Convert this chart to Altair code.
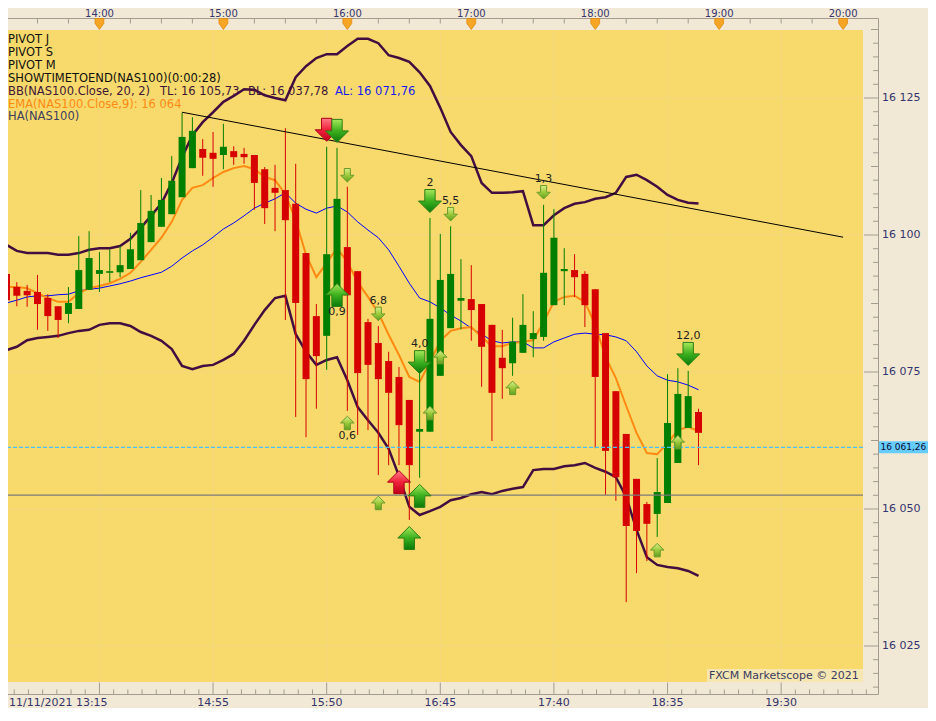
import altair as alt
import pandas as pd

# ---------------- data (NAS100, 5-minute Heikin-Ashi candles from 13:15) ----------------
OPEN = [16092.9, 16090.5, 16089.8, 16089.6, 16088.5, 16087.0, 16085.6, 16086.5, 16090.0, 16092.9,
        16093.1, 16093.2, 16093.8, 16095.4, 16098.7, 16101.5, 16103.8, 16106.9, 16112.2, 16115.7,
        16115.0, 16114.6, 16115.3, 16114.8, 16114.6, 16112.0, 16108.6, 16108.2, 16105.7, 16096.7,
        16085.2, 16081.6, 16089.0, 16097.8, 16093.4, 16084.1, 16080.3, 16077.0, 16074.1, 16069.9,
        16064.1, 16064.1, 16074.3, 16083.0, 16088.0, 16088.3, 16087.4, 16083.6, 16077.6, 16076.6,
        16078.5, 16081.0, 16081.4, 16087.2, 16093.4, 16093.6, 16092.9, 16090.1, 16082.1, 16071.5,
        16063.7, 16055.5, 16050.9, 16049.1, 16051.1, 16058.4, 16064.8, 16067.7]
HIGH = [16092.9, 16091.4, 16090.9, 16092.7, 16089.2, 16087.0, 16090.5, 16099.8, 16100.7, 16096.9,
        16097.4, 16098.0, 16100.4, 16108.2, 16107.3, 16110.4, 16114.4, 16122.3, 16121.5, 16117.5,
        16118.8, 16120.3, 16116.2, 16115.9, 16114.6, 16112.4, 16112.8, 16119.5, 16113.0, 16096.7,
        16087.4, 16116.1, 16115.9, 16108.8, 16093.4, 16084.7, 16083.4, 16078.7, 16075.9, 16069.9,
        16075.4, 16103.1, 16100.2, 16101.6, 16095.6, 16094.5, 16087.4, 16083.6, 16082.7, 16084.9,
        16089.2, 16086.1, 16105.5, 16104.7, 16097.6, 16096.5, 16093.4, 16090.1, 16082.1, 16071.5,
        16063.7, 16055.5, 16051.3, 16059.3, 16074.6, 16075.7, 16075.2, 16068.3]
LOW = [16083.9, 16087.0, 16086.9, 16082.7, 16082.5, 16081.2, 16083.9, 16086.5, 16090.0, 16089.6,
       16091.4, 16092.3, 16093.8, 16095.4, 16098.7, 16101.5, 16103.8, 16106.9, 16112.2, 16110.8,
       16108.8, 16112.0, 16112.8, 16113.0, 16104.6, 16102.0, 16100.7, 16084.5, 16066.8, 16063.1,
       16068.3, 16075.4, 16089.0, 16067.9, 16063.5, 16064.4, 16056.2, 16058.0, 16058.0, 16048.0,
       16055.7, 16064.1, 16074.3, 16083.0, 16082.8, 16080.7, 16072.3, 16062.4, 16070.1, 16074.3,
       16078.5, 16077.7, 16080.7, 16087.2, 16087.2, 16088.7, 16083.2, 16061.1, 16052.6, 16051.5,
       16033.0, 16038.3, 16040.5, 16044.9, 16051.1, 16058.4, 16064.8, 16058.0]
CLOSE = [16088.1, 16088.9, 16089.0, 16087.4, 16085.2, 16084.5, 16087.6, 16093.6, 16095.8, 16093.6,
         16093.4, 16094.5, 16097.4, 16102.2, 16104.4, 16106.4, 16109.9, 16117.9, 16119.0, 16114.1,
         16113.9, 16116.1, 16114.2, 16114.2, 16109.5, 16104.9, 16107.7, 16102.7, 16087.6, 16073.7,
         16077.9, 16096.5, 16106.6, 16089.0, 16074.8, 16076.3, 16073.7, 16071.2, 16065.3, 16058.0,
         16064.6, 16084.7, 16091.8, 16092.9, 16088.5, 16086.3, 16079.6, 16071.2, 16075.7, 16080.5,
         16083.6, 16082.1, 16093.1, 16099.5, 16093.8, 16092.3, 16087.2, 16074.1, 16060.6, 16055.8,
         16046.9, 16046.0, 16047.3, 16053.1, 16065.7, 16071.0, 16070.6, 16063.9]

BB_UPPER = [16098.2, 16097.1, 16096.7, 16096.7, 16096.7, 16096.4, 16096.4, 16096.7, 16097.3, 16097.6,
            16097.6, 16098.0, 16099.3, 16101.3, 16103.5, 16105.8, 16109.5, 16114.2, 16118.2, 16120.6,
            16122.4, 16124.3, 16125.4, 16126.6, 16126.5, 16125.5, 16125.0, 16124.6, 16128.8, 16130.8,
            16132.3, 16133.0, 16133.0, 16134.5, 16135.8, 16135.8, 16135.0, 16132.8, 16132.3, 16131.6,
            16129.7, 16127.2, 16123.2, 16118.8, 16116.4, 16114.4, 16109.5, 16107.7, 16107.7, 16107.8,
            16108.0, 16101.8, 16101.8, 16103.6, 16104.9, 16105.7, 16106.0, 16106.6, 16106.9, 16107.7,
            16110.6, 16111.0, 16110.0, 16108.8, 16107.3, 16106.4, 16105.9, 16105.73]
BB_LOWER = [16079.0, 16079.6, 16080.8, 16081.2, 16081.4, 16081.6, 16082.1, 16082.5, 16082.7, 16083.6,
            16083.9, 16083.9, 16083.4, 16082.3, 16081.6, 16080.7, 16079.2, 16076.1, 16075.5, 16076.1,
            16076.3, 16077.2, 16078.3, 16080.7, 16083.6, 16086.3, 16088.5, 16088.9, 16081.9, 16078.7,
            16076.3, 16077.2, 16077.7, 16073.5, 16068.6, 16066.2, 16063.9, 16061.0, 16056.0, 16050.4,
            16048.9, 16049.6, 16050.4, 16051.6, 16052.0, 16052.7, 16053.1, 16052.7, 16053.3, 16053.7,
            16054.0, 16057.1, 16057.3, 16057.3, 16057.8, 16058.0, 16058.4, 16057.5, 16056.8, 16055.8,
            16052.2, 16046.2, 16041.2, 16039.8, 16039.4, 16039.2, 16038.7, 16037.78]
BB_MID = [16087.6, 16088.1, 16088.7, 16088.9, 16088.9, 16089.1, 16089.2, 16089.8, 16090.1, 16090.3,
          16090.7, 16091.1, 16091.6, 16092.2, 16092.7, 16093.2, 16094.3, 16095.8, 16097.1, 16098.2,
          16099.6, 16101.1, 16102.2, 16103.5, 16104.9, 16105.8, 16106.6, 16107.7, 16105.8, 16104.7,
          16104.0, 16104.9, 16105.3, 16104.2, 16102.4, 16100.9, 16099.5, 16097.3, 16094.3, 16091.2,
          16088.5, 16087.8, 16086.7, 16085.4, 16084.3, 16083.0, 16081.9, 16080.7, 16080.3, 16080.5,
          16080.5, 16079.4, 16079.4, 16080.5, 16081.2, 16081.9, 16082.1, 16081.9, 16081.8, 16081.4,
          16080.7, 16078.7, 16076.1, 16074.3, 16073.5, 16073.2, 16072.6, 16071.76]
EMA9 = [16090.5, 16090.5, 16090.3, 16089.4, 16088.5, 16087.8, 16087.8, 16089.4, 16090.3, 16090.7,
        16091.2, 16092.0, 16093.1, 16095.1, 16097.3, 16099.5, 16102.4, 16106.4, 16108.6, 16109.1,
        16110.4, 16111.5, 16112.2, 16112.6, 16112.0, 16110.6, 16110.0, 16107.5, 16102.7, 16096.4,
        16092.3, 16094.9, 16097.6, 16095.1, 16091.4, 16088.7, 16085.8, 16081.8, 16078.1, 16074.1,
        16073.2, 16076.8, 16080.7, 16082.5, 16083.0, 16083.2, 16081.4, 16079.7, 16079.7, 16080.3,
        16080.5, 16080.8, 16084.1, 16087.8, 16088.7, 16088.9, 16087.8, 16083.6, 16077.7, 16073.9,
        16068.8, 16063.9, 16060.2, 16060.0, 16062.0, 16064.4, 16065.0, 16064.2]

TREND_I = [17, 81]
TREND_P = [16122.4, 16099.6]
SUPPORT_PRICE = [16052.55]
LAST_PRICE = [16061.26]
LAST_PRICE_TEXT = ["16 061,26"]

SIG_I = [31, 32, 32, 41, 40, 38, 40, 39, 66, 33, 43, 36, 52, 33, 36, 41, 42, 49, 63, 65]
SIG_P = [16119.2, 16119.0, 16089.05, 16106.2, 16076.8, 16054.9, 16052.4, 16044.7, 16078.3,
         16110.9, 16103.8, 16085.6, 16107.8, 16065.7, 16051.1, 16067.5, 16077.7, 16072.1,
         16042.5, 16062.2]
SIG_DIR = ["down", "down", "up", "down", "down", "up", "up", "up", "down",
           "down", "down", "down", "down", "up", "up", "up", "up", "up", "up", "up"]
SIG_KIND = ["red", "green", "green", "green", "green", "red", "green", "green", "green",
            "small", "small", "small", "small", "small", "small", "small", "small", "small",
            "small", "small"]
SIG_LABEL = ["", "", "0,9", "2", "4,0", "", "", "", "12,0",
             "", "5,5", "6,8", "1,3", "0,6", "", "", "", "", "", ""]

TOP_HOURS = [9, 21, 33, 45, 57, 69, 81]
TOP_LABELS = ["14:00", "15:00", "16:00", "17:00", "18:00", "19:00", "20:00"]
BOTTOM_MAJOR = [9, 20, 31, 42, 53, 64, 75]
BOTTOM_LABELS = ["", "14:55", "15:50", "16:45", "17:40", "18:35", "19:30"]
DATE_LABEL = "11/11/2021 13:15"
PRICE_LABELS = [16025, 16050, 16075, 16100, 16125]
PRICE_LABEL_TEXT = ["16 025", "16 050", "16 075", "16 100", "16 125"]

# legend: (text, colour, row, x)
LEGEND_TEXT = ["PIVOT J", "PIVOT S", "PIVOT M", "SHOWTIMETOEND(NAS100)(0:00:28)",
               "BB(NAS100.Close, 20, 2)", "TL: 16 105,73", "BL: 16 037,78", "AL: 16 071,76",
               "EMA(NAS100.Close,9): 16 064", "HA(NAS100)"]
LEGEND_COLOR = ["#111111", "#111111", "#111111", "#111111",
                "#3E1638", "#3E1638", "#3E1638", "#1A1AF0", "#FF8A12", "#3E3E5E"]
LEGEND_ROW = [0, 1, 2, 3, 4, 4, 4, 4, 5, 6]
LEGEND_X = [8, 8, 8, 8, 8, 160, 248, 335, 8, 8]
COPYRIGHT = "FXCM Marketscope © 2021"

# ---------------- style ----------------
YELLOW = "#F8DA6C"
BEIGE = "#F1E9D5"
GRID = "#F3D77E"
RED = "#D60000"
GREEN = "#007F00"
BBC = "#420E40"
FRAME = "#A39C90"
AXT = "#34346E"
FONT = "DejaVu Sans"
W, H = 863, 652

XS = alt.Scale(domain=[-0.1435, 82.4402], nice=False, zero=False)
YS = alt.Scale(domain=[16018.431, 16137.409], nice=False, zero=False)


def X(field):
    return alt.X(field + ":Q", scale=XS, axis=None)


def Y(field):
    return alt.Y(field + ":Q", scale=YS, axis=None)


candles = pd.DataFrame({"i": range(len(OPEN)), "o": OPEN, "h": HIGH, "l": LOW, "c": CLOSE})
lines = pd.DataFrame({"i": range(len(BB_UPPER)), "up": BB_UPPER, "lo": BB_LOWER,
                      "mid": BB_MID, "ema": EMA9})
trend = pd.DataFrame({"i": TREND_I, "p": TREND_P})
sig = pd.DataFrame({"i": SIG_I, "p": SIG_P, "dir": SIG_DIR, "kind": SIG_KIND, "lab": SIG_LABEL})
one = pd.DataFrame({"z": [0]})

candle_color = alt.condition("datum.c >= datum.o", alt.value(GREEN), alt.value(RED))

layers = []

# grid (faint lines at the labelled positions)
layers.append(alt.Chart(pd.DataFrame({"i": BOTTOM_MAJOR})).mark_rule(color=GRID, strokeWidth=1)
              .encode(x=X("i")))
layers.append(alt.Chart(pd.DataFrame({"p": PRICE_LABELS})).mark_rule(color=GRID, strokeWidth=1)
              .encode(y=Y("p")))

# legend texts (drawn first, the bands pass over them)
for txt, col, row, x0 in zip(LEGEND_TEXT, LEGEND_COLOR, LEGEND_ROW, LEGEND_X):
    layers.append(alt.Chart(pd.DataFrame({"t": [txt]})).mark_text(
        align="left", baseline="middle", font=FONT, fontSize=11.5, color=col
    ).encode(x=alt.value(x0), y=alt.value(10 + 12.9 * row), text="t:N"))

# indicator lines
lb = alt.Chart(lines)
layers.append(lb.mark_line(color="#0000FF", strokeWidth=1).encode(x=X("i"), y=Y("mid")))
layers.append(lb.mark_line(color="#FF8A12", strokeWidth=2).encode(x=X("i"), y=Y("ema")))
layers.append(lb.mark_line(color=BBC, strokeWidth=2.5).encode(x=X("i"), y=Y("up")))
layers.append(lb.mark_line(color=BBC, strokeWidth=2.5).encode(x=X("i"), y=Y("lo")))

# candles
cb = alt.Chart(candles)
layers.append(cb.mark_rule(strokeWidth=1).encode(x=X("i"), y=Y("l"), y2="h:Q", color=candle_color))
layers.append(cb.mark_bar(width=7).encode(x=X("i"), y=Y("o"), y2="c:Q", color=candle_color))

# horizontal levels
layers.append(alt.Chart(pd.DataFrame({"p": SUPPORT_PRICE})).mark_rule(
    color="#7A7A7A", strokeWidth=1.3).encode(y=Y("p")))
layers.append(alt.Chart(pd.DataFrame({"p": LAST_PRICE})).mark_rule(
    color="#48BFF8", strokeWidth=1.2, strokeDash=[4, 2]).encode(y=Y("p")))

# trend line
layers.append(alt.Chart(trend).mark_line(color="#000000", strokeWidth=1).encode(x=X("i"), y=Y("p")))

# signal arrows
UP_PATH = "M0,-1L1,0L0.45,0L0.45,1L-0.45,1L-0.45,0L-1,0Z"
DOWN_PATH = "M0,1L1,0L0.45,0L0.45,-1L-0.45,-1L-0.45,0L-1,0Z"


def grad(c1, c2, c3):
    return alt.LinearGradient(gradient="linear", x1=0, x2=0, y1=0, y2=1, stops=[
        alt.GradientStop(color=c1, offset=0), alt.GradientStop(color=c2, offset=0.5),
        alt.GradientStop(color=c3, offset=1)])


KIND_STYLE = {
    "red": (grad("#FF7A88", "#F0203A", "#C0001A"), "#B00018", 529),
    "green": (grad("#A6E85A", "#3CB01E", "#0A7A0A"), "#2E7E12", 529),
    "small": (grad("#D8F08A", "#9CCB3C", "#5E9E1E"), "#6A9A2A", 182),
}
sb = alt.Chart(sig)
for kind in ["red", "green", "small"]:
    fill, stroke, size = KIND_STYLE[kind]
    for d, path in [("down", DOWN_PATH), ("up", UP_PATH)]:
        layers.append(sb.transform_filter(
            "datum.kind == '%s' && datum.dir == '%s'" % (kind, d)
        ).mark_point(shape=path, size=size, fill=fill, filled=True, stroke=stroke,
                     strokeWidth=1, opacity=1).encode(x=X("i"), y=Y("p")))
for kind_test, d, dy in [("datum.kind != 'small'", "down", -18), ("datum.kind == 'small'", "down", -13),
                         ("datum.kind != 'small'", "up", 17), ("datum.kind == 'small'", "up", 13)]:
    layers.append(sb.transform_filter(
        "%s && datum.dir == '%s' && datum.lab != ''" % (kind_test, d)
    ).mark_text(font=FONT, fontSize=11, color="#1E1E1E", baseline="middle", dy=dy).encode(
        x=X("i"), y=Y("p"), text="lab:N"))

# ----- axes: frame, inward ticks, hour markers, labels -----
layers.append(alt.Chart(one).mark_rule(color=FRAME, strokeWidth=1).encode(
    x=alt.value(-8), x2=alt.value(878.5), y=alt.value(-11.5)))
layers.append(alt.Chart(one).mark_rule(color=FRAME, strokeWidth=1).encode(
    x=alt.value(-8), x2=alt.value(878.5), y=alt.value(664.5)))
layers.append(alt.Chart(one).mark_rule(color=FRAME, strokeWidth=1).encode(
    x=alt.value(878.5), y=alt.value(-11.5), y2=alt.value(664.5)))

top_ticks = pd.DataFrame({"i": [v for v in range(0, 82, 3) if v not in TOP_HOURS]})
layers.append(alt.Chart(top_ticks).mark_rule(color=FRAME, strokeWidth=1).encode(
    x=X("i"), y=alt.value(-11.5), y2=alt.value(-6.5)))

TRI = "M-0.8,-1L0.8,-1L0.8,-0.1L0,1L-0.8,-0.1Z"
top_df = pd.DataFrame({"i": TOP_HOURS, "t": TOP_LABELS})
layers.append(alt.Chart(top_df).mark_point(
    shape=TRI, size=121, fill="#F7A524", filled=True, stroke="#E08A10", strokeWidth=0.8,
    opacity=1).encode(x=X("i"), y=alt.value(-6)))
layers.append(alt.Chart(top_df).mark_text(font=FONT, fontSize=10, color=AXT, baseline="middle")
              .encode(x=X("i"), y=alt.value(-15.6), text="t:N"))

minor_bottom = pd.DataFrame({"i": [9 + 1.375 * k for k in range(-6, 55) if k % 8 != 0]})
layers.append(alt.Chart(minor_bottom).mark_rule(color=FRAME, strokeWidth=1).encode(
    x=X("i"), y=alt.value(659.5), y2=alt.value(664.5)))
bottom_df = pd.DataFrame({"i": BOTTOM_MAJOR, "t": BOTTOM_LABELS})
layers.append(alt.Chart(bottom_df).mark_rule(color=FRAME, strokeWidth=1).encode(
    x=X("i"), y=alt.value(652.5), y2=alt.value(664.5)))
layers.append(alt.Chart(bottom_df).mark_text(font=FONT, fontSize=11, color=AXT, baseline="middle")
              .encode(x=X("i"), y=alt.value(672.5), text="t:N"))
layers.append(alt.Chart(pd.DataFrame({"t": [DATE_LABEL]})).mark_text(
    align="left", baseline="middle", font=FONT, fontSize=11, color=AXT).encode(
    x=alt.value(9), y=alt.value(672.5), text="t:N"))

right_ticks = pd.DataFrame({"p": [16017.5 + 2.5 * k for k in range(49)]})
right_ticks["kind"] = ["major" if p % 25 == 0 else ("mid" if p % 12.5 == 0 else "minor")
                       for p in right_ticks["p"]]
for kname, x0 in [("major", 864), ("mid", 871), ("minor", 873)]:
    layers.append(alt.Chart(right_ticks).transform_filter("datum.kind == '%s'" % kname).mark_rule(
        color=FRAME, strokeWidth=1).encode(x=alt.value(x0), x2=alt.value(878.5), y=Y("p")))
layers.append(alt.Chart(pd.DataFrame({"p": PRICE_LABELS, "t": PRICE_LABEL_TEXT})).mark_text(
    align="left", baseline="middle", font=FONT, fontSize=11, color=AXT).encode(
    x=alt.value(882), y=Y("p"), text="t:N"))

# last price box on the price axis
lp = pd.DataFrame({"p": LAST_PRICE, "lo": [LAST_PRICE[0] - 1.1], "hi": [LAST_PRICE[0] + 1.1],
                   "t": LAST_PRICE_TEXT})
layers.append(alt.Chart(lp).mark_rect(color="#66CCFF").encode(
    x=alt.value(879), x2=alt.value(940), y=Y("lo"), y2="hi:Q"))
layers.append(alt.Chart(lp).mark_text(align="left", baseline="middle", font=FONT, fontSize=9,
                                      color="#0A0A30").encode(x=alt.value(880.5), y=Y("p"), text="t:N"))

# copyright box
layers.append(alt.Chart(one).mark_rect(color="#F6E7B2").encode(
    x=alt.value(707), x2=alt.value(863), y=alt.value(639), y2=alt.value(652)))
layers.append(alt.Chart(pd.DataFrame({"t": [COPYRIGHT]})).mark_text(
    align="left", baseline="middle", font=FONT, fontSize=11, color="#3A3A62").encode(
    x=alt.value(709), y=alt.value(646), text="t:N"))

chart = alt.layer(*layers).properties(
    width=W, height=H,
    autosize=alt.AutoSizeParams(type="none"),
    padding={"left": -8, "top": 22, "right": 65, "bottom": 26},
    background=BEIGE,
).configure_view(fill=YELLOW, stroke=None)

chart.save("out.html", embed_options={"renderer": "svg", "actions": False})
